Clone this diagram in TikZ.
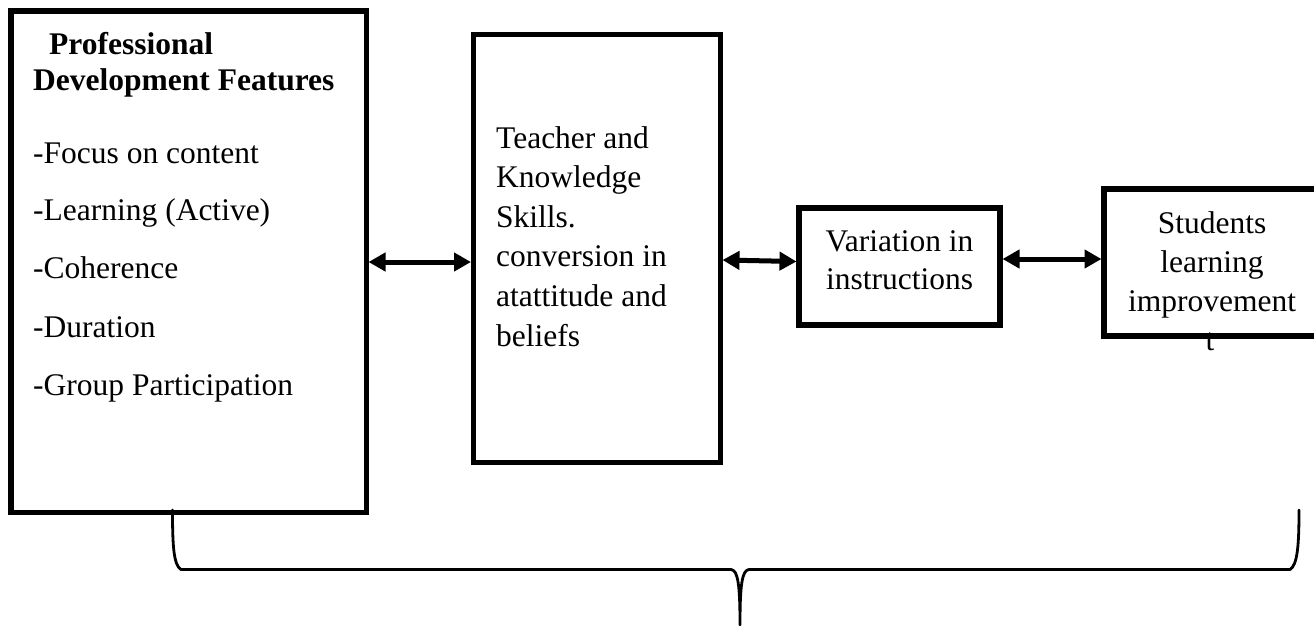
\documentclass[tikz,border=0pt]{standalone}
\usepackage{fontspec}
\setmainfont{Liberation Serif}
\usetikzlibrary{arrows.meta}
\begin{document}
\begin{tikzpicture}[x=1pt,y=-1pt,
  box/.style={draw, line width=5.5pt, inner sep=0pt, minimum width=#1},
  txt/.style={inner sep=0pt, anchor=base west, font=\fontsize{31.5}{39.6}\selectfont},
  ctxt/.style={inner sep=0pt, anchor=base, font=\fontsize{31.5}{39.6}\selectfont},
  dbl/.style={line width=5pt, {Triangle[length=17pt,width=18pt]}-{Triangle[length=17pt,width=18pt]}, shorten <=-0.5pt, shorten >=-0.5pt},
  brace/.style={line width=2.8pt, line join=round, line cap=round}]
\useasboundingbox (0,0) rectangle (1314,625);

% boxes
\node[box=355.5pt, minimum height=501.5pt] (pd) at (188.5,261.5) {};
\node[box=247.5pt, minimum height=428.5pt, line width=5pt] (tk) at (596.75,248.25) {};
\node[box=201pt, minimum height=117pt, line width=6pt] (vi) at (899.5,266.5) {};
\node[box=216pt, minimum height=147pt, line width=6pt] (sl) at (1212,262.5) {};

% professional development features
\node[txt, font=\fontsize{31.5}{39.6}\selectfont\bfseries] (pdh1) at (49,54) {Professional};
\node[txt, font=\fontsize{31.5}{39.6}\selectfont\bfseries] (pdh2) at (33,90.5) {Development Features};
\node[txt] (pdi1) at (33,163) {-Focus on content};
\node[txt] (pdi2) at (33,220.5) {-Learning (Active)};
\node[txt] (pdi3) at (33,278.5) {-Coherence};
\node[txt] (pdi4) at (33,337) {-Duration};
\node[txt] (pdi5) at (33,395) {-Group Participation};

% teacher knowledge
\node[txt] (tk1) at (496,148) {Teacher and};
\node[txt] (tk2) at (496,187.6) {Knowledge};
\node[txt] (tk3) at (496,227.2) {Skills.};
\node[txt] (tk4) at (496,266.8) {conversion in};
\node[txt] (tk5) at (496,306.4) {atattitude and};
\node[txt] (tk6) at (496,346) {beliefs};

% variation in instructions
\node[ctxt] (vi1) at (899.5,251) {Variation in};
\node[ctxt] (vi2) at (899.5,289.5) {instructions};

% students learning improvement
\node[ctxt] (sl1) at (1212,233) {Students};
\node[ctxt] (sl2) at (1212,272) {learning};
\node[ctxt] (sl3) at (1212,311) {improvement};
\node[ctxt] (sl4) at (1210,350) {t};

% connectors
\draw[dbl] (pd.east |- 0,262) -- (tk.west |- 0,262);
\draw[dbl] (tk.east |- 0,260) -- (vi.west |- 0,261.5);
\draw[dbl] (vi.east |- 0,259) -- (sl.west |- 0,259);

% brace under the chain
\coordinate (bl) at (172.5,510);
\coordinate (bt) at (740,625);
\coordinate (br) at (1299,510);
\draw[brace] (bl) .. controls (172.5,545) and (173.5,565) .. (181,569.5)
  -- (731,569.5) .. controls (738,570) and (740,585) .. (bt)
  .. controls (740,585) and (742,570) .. (749,569.5)
  -- (1290,569.5) .. controls (1297.5,565) and (1299,545) .. (br);
\end{tikzpicture}
\end{document}
